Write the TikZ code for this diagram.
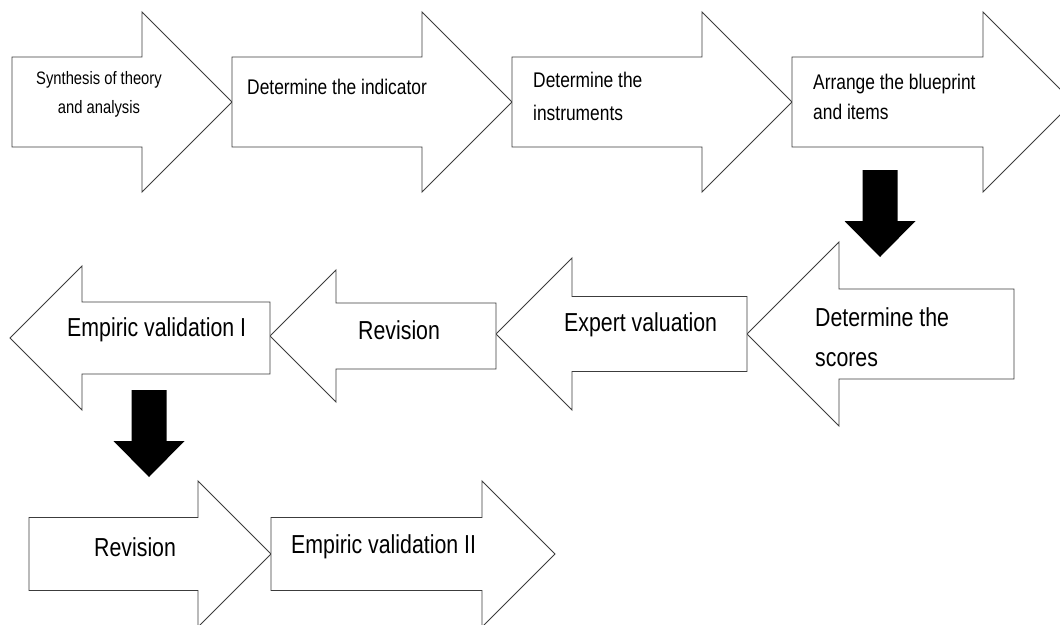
\documentclass[tikz,border=0pt]{standalone}
\usepackage{fontspec}
\setmainfont{Liberation Sans}[FakeStretch=0.82]
\usepackage{tikz}
\definecolor{outline}{RGB}{60,60,60}
\tikzstyle{stepshape} = [draw=outline, line width=0.9pt, fill=white, line join=miter]
\tikzstyle{steptext} = [inner sep=0pt, anchor=west, align=left]
\tikzstyle{bigtext} = [steptext, font=\fontsize{26}{40}\selectfont]
\tikzstyle{smalltext} = [steptext, font=\fontsize{21.2}{32}\selectfont]
\tikzstyle{downarrow} = [fill=black]
% block arrows: tail x, tip x, tip y, head length, half body
\newcommand{\rightstep}[5]{\draw[stepshape] (#1,{#3-#5}) -- ({#2-#4},{#3-#5}) -- ({#2-#4},{#3-#4}) -- (#2,#3) -- ({#2-#4},{#3+#4}) -- ({#2-#4},{#3+#5}) -- (#1,{#3+#5}) -- cycle;}
\newcommand{\leftstep}[5]{\draw[stepshape] (#1,{#3-#5}) -- ({#2+#4},{#3-#5}) -- ({#2+#4},{#3-#4}) -- (#2,#3) -- ({#2+#4},{#3+#4}) -- ({#2+#4},{#3+#5}) -- (#1,{#3+#5}) -- cycle;}
\newcommand{\downstep}[2]{\fill[downarrow] ({#1-17.5},#2) -- ({#1+17.5},#2) -- ({#1+17.5},{#2+51}) -- ({#1+35.5},{#2+51}) -- (#1,{#2+87}) -- ({#1-35.5},{#2+51}) -- ({#1-17.5},{#2+51}) -- cycle;}

\begin{document}
\begin{tikzpicture}[x=1pt, y=-1pt]
\useasboundingbox (0,0) rectangle (1060,624);
\clip (0,0) rectangle (1060,624);
% first row, to the right
\rightstep{12}{232}{102}{90}{45}
\rightstep{232}{512}{102}{90}{45}
\rightstep{512}{792}{102}{90}{45}
\rightstep{792}{1073}{102}{90}{45}
\node[steptext, anchor=center, align=center, font=\fontsize{18}{29}\selectfont] (synth) at (99,94.5) {Synthesis of theory\\and analysis};
\node[smalltext] (indic) at (247,87) {Determine the indicator};
\node[smalltext, font=\fontsize{21.2}{33}\selectfont] (instr) at (533,96.5) {Determine the\\instruments};
\node[smalltext, font=\fontsize{21.2}{30}\selectfont] (blue) at (813,97) {Arrange the blueprint\\and items};
\downstep{880}{170}
% second row, to the left
\leftstep{1014}{747}{334}{92}{45}
\leftstep{747}{496}{334}{76}{37.5}
\leftstep{496}{270}{336}{66}{33}
\leftstep{270}{10}{338}{72}{36}
\node[bigtext] (scores) at (815,337) {Determine the\\scores};
\node[bigtext] (expert) at (564,325) {Expert valuation};
\node[bigtext] (rev) at (358,330) {Revision};
\node[bigtext] (emp) at (67,330) {Empiric validation I};
\downstep{149}{390}
% third row, to the right
\rightstep{29}{271}{554}{73}{36.5}
\rightstep{271}{555}{554}{73}{36.5}
\node[bigtext] (revtwo) at (94,547) {Revision};
\node[bigtext] (emptwo) at (291,547) {Empiric validation II};
\end{tikzpicture}
\end{document}
